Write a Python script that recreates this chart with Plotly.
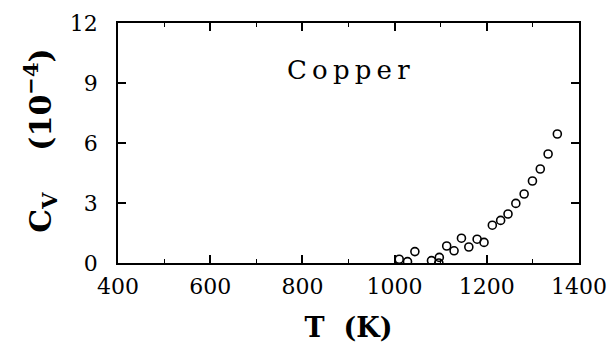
import plotly.graph_objects as go

temperature_K = [1010, 1028, 1044, 1080, 1097, 1096, 1113, 1129, 1145, 1161,
                 1179, 1194, 1212, 1230, 1246, 1263, 1281, 1299, 1316, 1333, 1353]
cv_1e4 = [0.19, 0.07, 0.57, 0.12, 0.28, 0.0, 0.85, 0.61, 1.24, 0.80,
          1.19, 1.03, 1.89, 2.13, 2.45, 2.98, 3.45, 4.10, 4.70, 5.45, 6.45]
x_ticks = [400, 600, 800, 1000, 1200, 1400]
y_ticks = [0, 3, 6, 9, 12]

serif = "DejaVu Serif"

fig = go.Figure()
fig.add_trace(go.Scatter(
    x=temperature_K, y=cv_1e4, mode="markers",
    marker=dict(symbol="circle-open", size=8, color="black", line=dict(width=1.6, color="black")),
    showlegend=False,
))

fig.update_layout(
    width=614, height=347,
    margin=dict(l=118, r=35, t=23, b=84),
    plot_bgcolor="white", paper_bgcolor="white",
    font=dict(family=serif, color="black"),
)
fig.update_xaxes(
    range=[400, 1400], tickvals=x_ticks, ticktext=[str(v) for v in x_ticks],
    ticks="inside", ticklen=8, tickwidth=1.5, tickcolor="black",
    minor=dict(dtick=100, ticks="inside", ticklen=4, tickwidth=1.2, tickcolor="black"),
    showline=True, linewidth=1.8, linecolor="black", mirror="allticks",
    showgrid=False, zeroline=False, automargin=False,
    tickfont=dict(family=serif, size=22, color="black"),
    ticklabelstandoff=3,
    title=dict(text="<b>T\u00a0\u00a0(K)</b>", font=dict(family=serif, size=27, color="black"), standoff=20),
)
fig.update_yaxes(
    range=[0, 12], tickvals=y_ticks, ticktext=[str(v) for v in y_ticks],
    ticks="inside", ticklen=8, tickwidth=1.5, tickcolor="black",
    showline=True, linewidth=1.8, linecolor="black", mirror="allticks",
    showgrid=False, zeroline=False, automargin=False,
    tickfont=dict(family=serif, size=22, color="black"),
    ticklabelstandoff=14,
)
fig.add_annotation(
    text="<b>C<sub>V</sub>\u00a0\u00a0\u00a0\u00a0(10<sup>\u2212</sup><sup>4</sup>)</b>",
    xref="paper", yref="paper", x=-0.168, y=0.508, xanchor="center", yanchor="middle",
    textangle=-90, showarrow=False, font=dict(family=serif, size=30, color="black"),
)
fig.add_annotation(
    text="C\u2009o\u2009p\u2009p\u2009e\u2009r", xref="x", yref="y", x=901, y=9.65, showarrow=False,
    font=dict(family=serif, size=26, color="black"),
)

fig.write_html("out.html")
